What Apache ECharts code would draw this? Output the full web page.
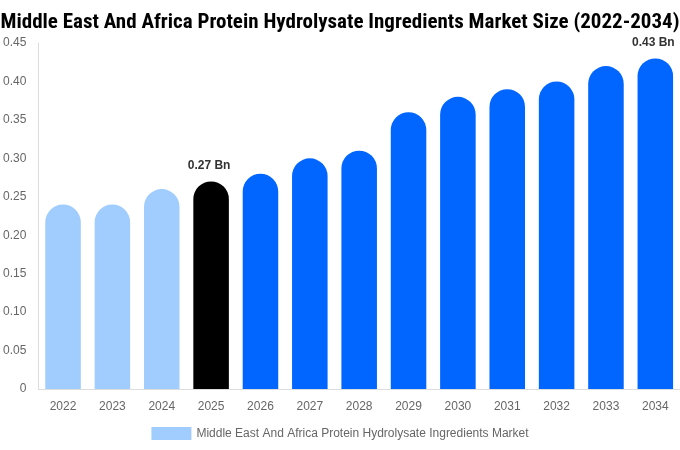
<!DOCTYPE html>
<html>
<head>
<meta charset="utf-8">
<script src="https://cdn.jsdelivr.net/npm/echarts@6/dist/echarts.min.js"></script>
<style>
  html, body { margin: 0; padding: 0; background: #fff; }
  #chart { width: 680px; height: 450px; }
</style>
</head>
<body>
<div id="chart"></div>
<script>
// chart data
const years = ['2022', '2023', '2024', '2025', '2026', '2027', '2028', '2029', '2030', '2031', '2032', '2033', '2034']
const values = [0.24, 0.24, 0.26, 0.27, 0.28, 0.30, 0.31, 0.36, 0.38, 0.39, 0.40, 0.42, 0.43]
const barColors = ['#a0cdfd', '#a0cdfd', '#a0cdfd', '#000000', '#0066ff', '#0066ff', '#0066ff', '#0066ff', '#0066ff', '#0066ff', '#0066ff', '#0066ff', '#0066ff']
const labelled = ['2025', '2034']
const seriesName = 'Middle East And Africa Protein Hydrolysate Ingredients Market'

const chart = echarts.init(document.getElementById('chart'))

let option = {
  backgroundColor: '#fff',
  title: {
    text: 'Middle East And Africa Protein Hydrolysate Ingredients Market Size (2022-2034)',
    left: 'center',
    top: 7,
    textStyle: {
      fontFamily: '"Liberation Sans Narrow", "Roboto Condensed", Arial, sans-serif',
      fontSize: 21,
      fontWeight: 'bold',
      color: '#000'
    }
  },
  legend: {
    bottom: 5,
    left: 'center',
    itemWidth: 40,
    itemHeight: 13,
    icon: 'rect',
    textStyle: { color: '#666', fontSize: 12, fontFamily: 'Arial, sans-serif' },
    data: [{ name: seriesName, itemStyle: { color: '#a0cdfd' } }]
  },
  grid: {
    left: 38,
    right: 0,
    top: 43,
    bottom: 61
  },
  xAxis: {
    type: 'category',
    data: years,
    axisTick: { show: false },
    axisLine: { lineStyle: { color: '#ddd' } },
    axisLabel: { color: '#666', fontSize: 12, margin: 12, fontFamily: 'Arial, sans-serif' }
  },
  yAxis: {
    type: 'value',
    min: 0,
    max: 0.45,
    interval: 0.05,
    axisLine: { show: true, lineStyle: { color: '#ddd' } },
    axisTick: { show: false },
    splitLine: { show: false },
    axisLabel: {
      color: '#666',
      fontSize: 12,
      margin: 12,
      fontFamily: 'Arial, sans-serif',
      formatter: function (v) { return v === 0 ? '0' : v.toFixed(2) }
    }
  },
  series: [
    {
      name: seriesName,
      type: 'bar',
      barWidth: '72%',
      data: values.map(function (v, i) {
        return {
          value: v,
          itemStyle: { color: barColors[i], borderRadius: [18, 18, 0, 0] },
          label: {
            show: labelled.indexOf(years[i]) !== -1,
            position: 'top',
            distance: 10,
            offset: [-2, 0],
            formatter: v.toFixed(2) + ' Bn',
            fontSize: 12,
            fontWeight: 'bold',
            color: '#333',
            fontFamily: 'Arial, sans-serif'
          }
        }
      })
    }
  ]
}
chart.setOption(option)
</script>
</body>
</html>
